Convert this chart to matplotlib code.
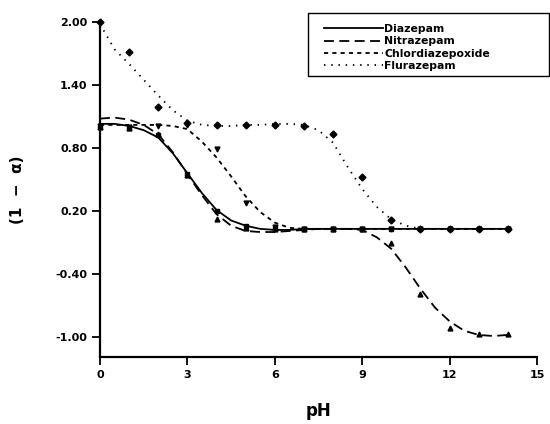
import numpy as np
import matplotlib
matplotlib.use("Agg")
import matplotlib.pyplot as plt
from matplotlib.patches import Rectangle

# measured points, pH 0..14
ph_pts = list(range(15))
diazepam_pts = [1.00, 0.99, 0.92, 0.55, 0.20, 0.06, 0.04, 0.03, 0.03, 0.03, 0.03, 0.03, 0.03, 0.03, 0.03]
nitrazepam_pts = [1.00, 0.99, 0.93, 0.54, 0.12, 0.04, 0.03, 0.03, 0.03, 0.03, -0.10, -0.59, -0.91, -0.97, -0.97]
chlordiazepoxide_pts = [1.01, 1.00, 1.01, 1.02, 0.79, 0.28, 0.05, 0.03, 0.03, 0.03, 0.03, 0.03, 0.03, 0.03, 0.03]
flurazepam_pts = [2.00, 1.71, 1.19, 1.04, 1.02, 1.02, 1.02, 1.01, 0.93, 0.52, 0.11, 0.03, 0.03, 0.03, 0.03]

# fitted curves, every 0.5 pH
ph_fit = [i * 0.5 for i in range(29)]
diazepam_fit = [1.03, 1.03, 1.01, 0.97, 0.90, 0.75, 0.56, 0.37, 0.21, 0.11, 0.06, 0.03, 0.02, 0.02,
                0.03, 0.03, 0.03, 0.03, 0.03, 0.03, 0.03, 0.03, 0.03, 0.03, 0.03, 0.03, 0.03, 0.03, 0.03]
nitrazepam_fit = [1.08, 1.09, 1.07, 1.02, 0.93, 0.76, 0.55, 0.35, 0.17, 0.06, 0.01, 0.00, 0.00, 0.01,
                  0.02, 0.03, 0.03, 0.03, 0.02, -0.05, -0.16, -0.34, -0.54, -0.72, -0.85, -0.94, -0.98, -0.99, -0.98]
chlordiazepoxide_fit = [1.02, 1.02, 1.02, 1.02, 1.02, 1.01, 0.98, 0.86, 0.71, 0.53, 0.34, 0.19, 0.09, 0.04,
                        0.03, 0.03, 0.03, 0.03, 0.03, 0.03, 0.03, 0.03, 0.03, 0.03, 0.03, 0.03, 0.03, 0.03, 0.03]
flurazepam_fit = [1.98, 1.74, 1.60, 1.45, 1.30, 1.16, 1.06, 1.02, 1.01, 1.01, 1.02, 1.02, 1.03, 1.03,
                  1.02, 0.97, 0.85, 0.62, 0.41, 0.24, 0.12, 0.06, 0.03, 0.03, 0.03, 0.03, 0.03, 0.03, 0.03]

x_ticks = [0, 3, 6, 9, 12, 15]
y_ticks = [-1.0, -0.4, 0.2, 0.8, 1.4, 2.0]

plt.rcParams['font.family'] = ['DejaVu Sans']
plt.rcParams['font.weight'] = 'bold'

fig = plt.figure(figsize=(5.5, 4.24), dpi=100)
ax = fig.add_axes([100 / 550, 1 - 357 / 424, 437 / 550, 335 / 424])

series = [
    ("Diazepam", diazepam_fit, diazepam_pts, "-", "s"),
    ("Nitrazepam", nitrazepam_fit, nitrazepam_pts, (0, (5.5, 3)), "^"),
    ("Chlordiazepoxide", chlordiazepoxide_fit, chlordiazepoxide_pts, (0, (2.3, 2.3)), "v"),
    ("Flurazepam", flurazepam_fit, flurazepam_pts, (0, (0.8, 3.2)), "D"),
]
for name, fit, pts, ls, mk in series:
    ax.plot(ph_fit, fit, color="black", ls=ls, lw=1.3, label=name, clip_on=False)
    ax.plot(ph_pts, pts, ls="none", marker=mk, ms=3.5, color="black", clip_on=False)

ax.set_xlim(0, 15)
ax.set_ylim(-1.19, 2.0)
ax.set_xticks(x_ticks)
ax.set_yticks(y_ticks)
ax.set_yticklabels([f"{v:.2f}" for v in y_ticks])
ax.tick_params(direction="out", length=6, width=1.3, labelsize=8, pad=3)
for s in ["top", "right"]:
    ax.spines[s].set_visible(False)
for s in ["left", "bottom"]:
    ax.spines[s].set_linewidth(1.6)

ax.set_xlabel("pH", fontsize=12, fontweight="bold", labelpad=16)
ax.set_ylabel("(1  \u2212  \u03b1)", fontsize=11, fontweight="bold", labelpad=22)

# legend box is wider than its contents in the original
leg = ax.legend(loc="upper left", bbox_to_anchor=(324 / 550, 1 - 24 / 424),
                bbox_transform=fig.transFigure, fontsize=7.8, handlelength=5.4,
                labelspacing=0.22, borderpad=0, handletextpad=0.15, borderaxespad=0,
                frameon=False)
fig.patches.append(Rectangle((308 / 550, 1 - 76 / 424), 241 / 550, 63 / 424,
                             transform=fig.transFigure, fill=False, lw=1.0,
                             edgecolor="black"))

fig.savefig("out.png", dpi=100)
